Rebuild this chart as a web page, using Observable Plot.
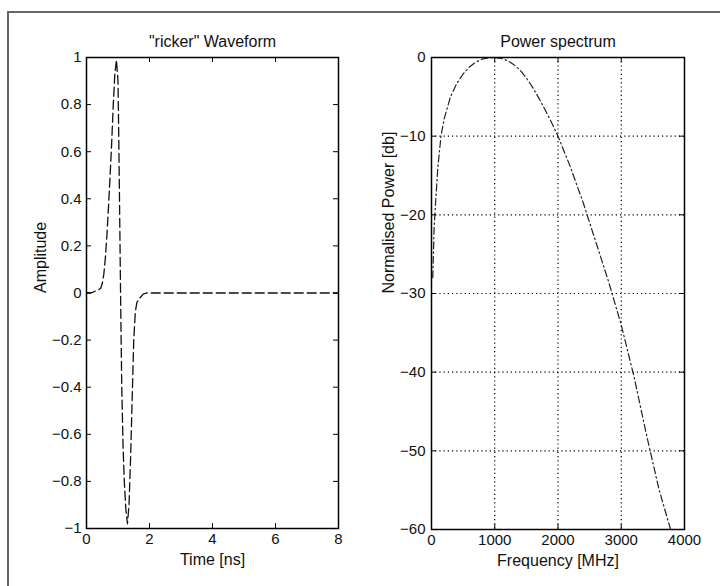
<!DOCTYPE html>
<html>
<head>
<meta charset="utf-8">
<script src="https://cdn.jsdelivr.net/npm/d3@7"></script>
<script src="https://cdn.jsdelivr.net/npm/@observablehq/plot@0.6"></script>
<style>
  html, body { margin: 0; padding: 0; background: #fff; }
  #c { position: relative; width: 720px; height: 586px; background: #fff; overflow: hidden; }
  #c > .p { position: absolute; top: 0; }
  .frameTop { position: absolute; left: 7px; top: 11px; right: 0; height: 2px; background: #666; }
  .frameLeft { position: absolute; left: 7px; top: 11px; width: 2px; bottom: 0; background: #666; }
</style>
</head>
<body>
<div id="c">
  <div class="frameTop"></div>
  <div class="frameLeft"></div>
</div>
<script>
// ---- Data: "ricker" waveform (time in ns, amplitude) ----
const waveTime = [0, 0.1, 0.2, 0.3, 0.4, 0.45, 0.5, 0.55, 0.6, 0.65, 0.7, 0.75, 0.8, 0.85, 0.9, 0.95, 1.0, 1.03, 1.06, 1.09, 1.12, 1.16, 1.2, 1.25, 1.3, 1.35, 1.4, 1.45, 1.5, 1.55, 1.6, 1.7, 1.8, 1.9, 2.0, 3, 4, 5, 6, 7, 8];
const waveAmp  = [0, 0, 0.003, 0.01, 0.015, 0.02, 0.04, 0.08, 0.15, 0.25, 0.37, 0.5, 0.64, 0.8, 0.93, 0.99, 0.9, 0.6, 0.25, -0.1, -0.4, -0.65, -0.8, -0.92, -0.98, -0.9, -0.7, -0.45, -0.2, -0.08, -0.04, -0.02, -0.005, 0, 0, 0, 0, 0, 0, 0, 0];

// ---- Data: power spectrum (frequency in MHz, normalised power in dB) ----
const specFreq  = [20, 40, 60, 100, 150, 200, 300, 400, 500, 600, 700, 800, 900, 1000, 1100, 1200, 1300, 1400, 1500, 1600, 1700, 1800, 1900, 2000, 2200, 2400, 2600, 2800, 3000, 3200, 3400, 3600, 3780];
const specPower = [-28, -22, -19, -14, -10, -7.8, -5, -3.3, -2.1, -1.2, -0.6, -0.2, -0.05, 0, -0.1, -0.4, -0.9, -1.6, -2.6, -3.8, -5.2, -6.7, -8.3, -10, -14, -18.5, -23.5, -28.5, -34, -40.5, -48, -55, -60];

// ---- Ticks and texts ----
const xTicksL = [0, 2, 4, 6, 8];
const yTicksL = [-1, -0.8, -0.6, -0.4, -0.2, 0, 0.2, 0.4, 0.6, 0.8, 1];
const xTicksR = [0, 1000, 2000, 3000, 4000];
const yTicksR = [0, -10, -20, -30, -40, -50, -60];
const gridXR = [1000, 2000, 3000];
const gridYR = [-10, -20, -30, -40, -50];
const titleL = "\"ricker\" Waveform";
const titleR = "Power spectrum";
const xLabelL = "Time [ns]";
const yLabelL = "Amplitude";
const xLabelR = "Frequency [MHz]";
const yLabelR = "Normalised Power [db]";

const wave = waveTime.map((t, i) => ({t, a: waveAmp[i]}));
const spec = specFreq.map((f, i) => ({f, p: specPower[i]}));
const fmt = d => (d < 0 ? "\u2212" + String(-d) : String(d));

const font = "'Liberation Sans', Arial, Helvetica, sans-serif";
const style = {fontFamily: font, fontSize: "15px", color: "#111", background: "transparent", overflow: "visible"};
const TK = 5; // inward tick length

// Left panel
const mL = {left: 86, right: 22, top: 57, bottom: 58};
const hL = 586 - mL.top - mL.bottom, wL = 360 - mL.left - mL.right;
const left = Plot.plot({
  width: 360, height: 586,
  marginLeft: mL.left, marginRight: mL.right, marginTop: mL.top, marginBottom: mL.bottom,
  style,
  x: {domain: [0, 8]},
  y: {domain: [-1, 1]},
  marks: [
    Plot.line(wave, {x: "t", y: "a", stroke: "#111", strokeWidth: 1.3, strokeDasharray: "9,4"}),
    Plot.tickX(xTicksL, {x: d => d, insetTop: hL - TK, stroke: "#000"}),
    Plot.tickX(xTicksL, {x: d => d, insetBottom: hL - TK, stroke: "#000"}),
    Plot.tickY(yTicksL, {y: d => d, insetRight: wL - TK, stroke: "#000"}),
    Plot.tickY(yTicksL, {y: d => d, insetLeft: wL - TK, stroke: "#000"}),
    Plot.frame({stroke: "#000", strokeWidth: 1.5}),
    Plot.axisX(xTicksL, {tickSize: 0, tickPadding: 5, tickFormat: fmt, label: null, fontSize: 15}),
    Plot.axisY(yTicksL, {tickSize: 0, tickPadding: 5, tickFormat: fmt, label: null, fontSize: 15}),
    Plot.text([titleL], {text: d => d, frameAnchor: "top", dy: -22, fontSize: 16, fill: "#111"}),
    Plot.text([xLabelL], {text: d => d, frameAnchor: "bottom", dy: 36, fontSize: 16, fill: "#111"}),
    Plot.text([yLabelL], {text: d => d, frameAnchor: "left", dx: -46, rotate: -90, fontSize: 16, fill: "#111"})
  ]
});

// Right panel
const mR = {left: 71, right: 36, top: 57, bottom: 57};
const hR = 586 - mR.top - mR.bottom, wR = 360 - mR.left - mR.right;
const right = Plot.plot({
  width: 360, height: 586,
  marginLeft: mR.left, marginRight: mR.right, marginTop: mR.top, marginBottom: mR.bottom,
  style,
  x: {domain: [0, 4000]},
  y: {domain: [-60, 0]},
  marks: [
    Plot.ruleX(gridXR, {x: d => d, stroke: "#000", strokeWidth: 1.2, strokeDasharray: "1.2,3"}),
    Plot.ruleY(gridYR, {y: d => d, stroke: "#000", strokeWidth: 1.2, strokeDasharray: "1.2,3"}),
    Plot.line(spec, {x: "f", y: "p", stroke: "#222", strokeWidth: 1.2, strokeDasharray: "7,3,1.5,3"}),
    Plot.tickX(xTicksR, {x: d => d, insetTop: hR - TK, stroke: "#000"}),
    Plot.tickX(xTicksR, {x: d => d, insetBottom: hR - TK, stroke: "#000"}),
    Plot.tickY(yTicksR, {y: d => d, insetRight: wR - TK, stroke: "#000"}),
    Plot.tickY(yTicksR, {y: d => d, insetLeft: wR - TK, stroke: "#000"}),
    Plot.frame({stroke: "#000", strokeWidth: 1.5}),
    Plot.axisX(xTicksR, {tickSize: 0, tickPadding: 5, tickFormat: fmt, label: null, fontSize: 15}),
    Plot.axisY(yTicksR, {tickSize: 0, tickPadding: 6, tickFormat: fmt, label: null, fontSize: 15}),
    Plot.text([titleR], {text: d => d, frameAnchor: "top", dy: -22, fontSize: 16, fill: "#111"}),
    Plot.text([xLabelR], {text: d => d, frameAnchor: "bottom", dy: 36, fontSize: 16, fill: "#111"}),
    Plot.text([yLabelR], {text: d => d, frameAnchor: "left", dx: -43, rotate: -90, fontSize: 16, fill: "#111"})
  ]
});

const c = document.getElementById("c");
left.classList.add("p"); left.style.left = "0px";
right.classList.add("p"); right.style.left = "360px";
c.appendChild(left);
c.appendChild(right);
</script>
</body>
</html>
